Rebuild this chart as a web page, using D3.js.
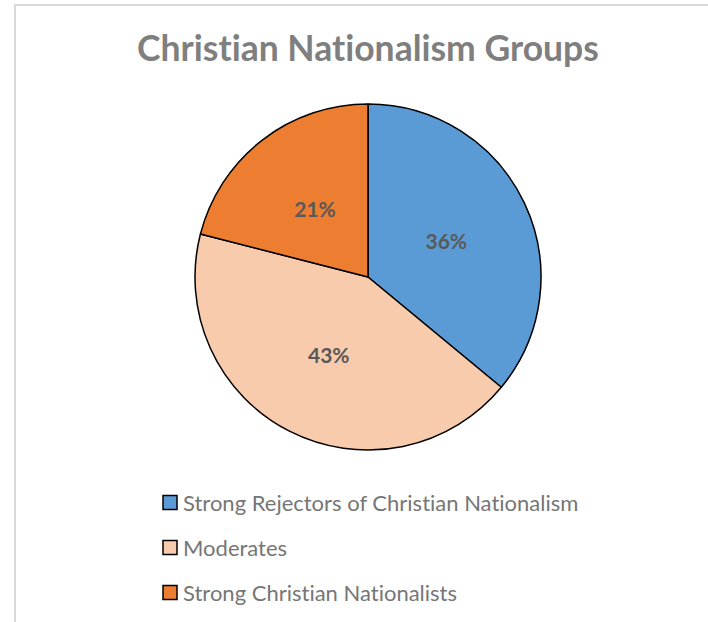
<!DOCTYPE html>
<html>
<head>
<meta charset="utf-8">
<script src="https://cdn.jsdelivr.net/npm/d3@7"></script>
<style>
  html, body { margin: 0; padding: 0; background: #fff; }
  svg { display: block; }
  text { font-variant-ligatures: none; font-feature-settings: "liga" 0; }
</style>
</head>
<body>
<svg id="chart" width="708" height="622"></svg>
<script>
// Survey groups and their shares (percent)
const categories = [
  "Strong Rejectors of Christian Nationalism",
  "Moderates",
  "Strong Christian Nationalists"
];
const shares = [36, 43, 21];
const colors = ["#5B9BD5", "#F8CBAD", "#ED7D31"];
const title = "Christian Nationalism Groups";

const svg = d3.select("#chart");
const W = 708, H = 622;
const font = "Lato, 'Open Sans', sans-serif";

// chart frame (top and left edges visible)
svg.append("path")
  .attr("d", `M15,${H} L15,5 L${W},5`)
  .attr("fill", "none")
  .attr("stroke", "#d9d9d9")
  .attr("stroke-width", 2);

// title
svg.append("text")
  .attr("x", 368)
  .attr("y", 61)
  .attr("text-anchor", "middle")
  .attr("font-family", font)
  .attr("font-weight", "bold")
  .attr("font-size", 35.5)
  .attr("fill", "#7f7f7f")
  .text(title);

// pie
const cx = 368, cy = 277, R = 173;
const data = categories.map((c, i) => ({ name: c, value: shares[i], color: colors[i] }));
const pie = d3.pie().value(d => d.value).sort(null);
const arc = d3.arc().innerRadius(0).outerRadius(R);
const labelArc = d3.arc().innerRadius(R * 0.5).outerRadius(R * 0.5);

const g = svg.append("g").attr("transform", `translate(${cx},${cy})`);
const arcs = pie(data);

g.selectAll("path.slice")
  .data(arcs)
  .join("path")
  .attr("class", "slice")
  .attr("d", arc)
  .attr("fill", d => d.data.color)
  .attr("stroke", "#000")
  .attr("stroke-width", 1.5)
  .attr("stroke-linejoin", "round");

g.selectAll("text.lbl")
  .data(arcs)
  .join("text")
  .attr("class", "lbl")
  .attr("transform", d => `translate(${labelArc.centroid(d)})`)
  .attr("text-anchor", "middle")
  .attr("dominant-baseline", "central")
  .attr("font-family", font)
  .attr("font-weight", "bold")
  .attr("font-size", 21)
  .attr("fill", "#595959")
  .text(d => d3.format(".0f")(d.data.value) + "%");

// legend
const legend = svg.append("g");
const rowY = d3.scalePoint().domain(categories).range([502.5, 592.5]);
const items = legend.selectAll("g.item")
  .data(data)
  .join("g")
  .attr("class", "item")
  .attr("transform", d => `translate(163,${rowY(d.name)})`);

items.append("rect")
  .attr("x", 0)
  .attr("y", -7)
  .attr("width", 14)
  .attr("height", 14)
  .attr("fill", d => d.color)
  .attr("stroke", "#000")
  .attr("stroke-width", 1.5);

items.append("text")
  .attr("x", 20)
  .attr("y", 8.5)
  .attr("font-family", font)
  .attr("font-size", 22)
  .attr("fill", "#767676")
  .text(d => d.name);
</script>
</body>
</html>
